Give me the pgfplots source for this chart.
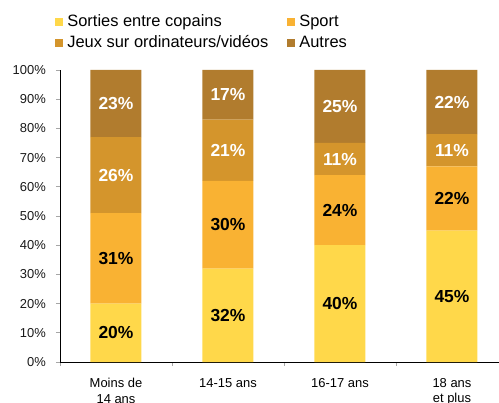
\documentclass[border=0pt]{standalone}
\usepackage{fontspec}
\setmainfont{Liberation Sans}
\usepackage{pgfplots}
\pgfplotsset{compat=1.18}
\usepackage{pgfplotstable}
\definecolor{copains}{HTML}{FFD84A}
\definecolor{sport}{HTML}{F9B233}
\definecolor{jeux}{HTML}{D4952C}
\definecolor{autres}{HTML}{B17C2E}

% share of leisure activity per age group (%)
\pgfplotstableread{
x copains sport jeux autres
0 20 31 26 23
1 32 30 21 17
2 40 24 11 25
3 45 22 11 22
}\parts

\begin{document}
\begin{tikzpicture}
\begin{axis}[
  scale only axis, width=439bp, height=292bp,
  ybar stacked, bar width=51bp,
  xmin=-0.5, xmax=3.42, ymin=0, ymax=100,
  axis x line*=bottom, axis y line*=left,
  axis line style={black, line width=0.9pt},
  tick align=outside, major tick length=4bp,
  tick style={gray!70, line width=0.8pt},
  ytick={0,10,...,100},
  yticklabels={0\%,10\%,20\%,30\%,40\%,50\%,60\%,70\%,80\%,90\%,100\%},
  yticklabel style={inner sep=0pt, xshift=-10bp, text=black!90},
  xtick={-0.5,0.5,1.5,2.5}, xticklabels={},
  extra x ticks={0,1,2,3},
  extra x tick labels={Moins de\\14 ans, 14-15 ans, 16-17 ans, 18 ans\\et plus},
  extra x tick style={major tick length=0pt,
    xticklabel style={align=center, inner sep=0pt, yshift=-16bp}},
  ticklabel style={font=\fontsize{13}{15.5}\selectfont},
  point meta=explicit,
  % stacked bars already put these nodes in the middle of each segment
  nodes near coords={\pgfmathprintnumber[assume math mode=true]{\pgfplotspointmeta}\%},
  every node near coord/.append style={anchor=center, inner sep=0pt,
    font=\fontsize{17.5}{20}\selectfont\bfseries},
  every axis plot post/.append style={
    legend image code/.code={\fill[##1] (0bp,-4bp) rectangle (8bp,4bp);}},
  legend columns=2, legend cell align=left,
  legend style={draw=none, fill=none, at={(-0.011,1.19)}, anchor=north west,
    font=\fontsize{16.5}{19}\selectfont, inner sep=0pt, row sep=6bp,
    nodes={inner sep=0pt, anchor=west, text height=12bp, text depth=3bp},
    /tikz/every odd column/.append style={column sep=4bp},
    /tikz/every even column/.append style={column sep=19bp}},
]
\addplot[fill=copains, draw=none] table[x=x, y=copains, meta=copains] {\parts};
\addplot[fill=sport, draw=none] table[x=x, y=sport, meta=sport] {\parts};
\addplot[fill=jeux, draw=none, every node near coord/.append style={text=white}]
  table[x=x, y=jeux, meta=jeux] {\parts};
\addplot[fill=autres, draw=none, every node near coord/.append style={text=white}]
  table[x=x, y=autres, meta=autres] {\parts};
\legend{Sorties entre copains, Sport, Jeux sur ordinateurs/vidéos, Autres}
\coordinate (O) at (rel axis cs:0,0);
\end{axis}
\pgfresetboundingbox
\path[use as bounding box] ([shift={(-60bp,-41bp)}]O) rectangle ([shift={(439bp,362bp)}]O);
\end{tikzpicture}
\end{document}
